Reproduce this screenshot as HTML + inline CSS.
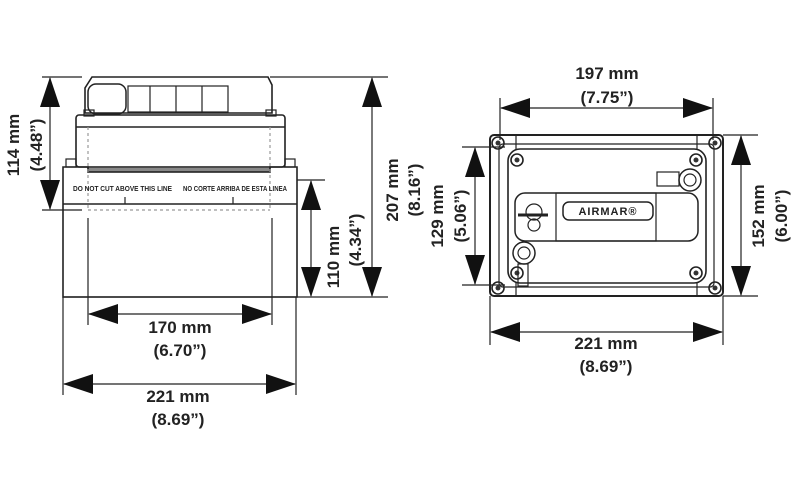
<!DOCTYPE html>
<html><head><meta charset="utf-8"><style>
html,body{margin:0;padding:0;background:#fff;}
svg{display:block;}
text{font-family:"Liberation Sans",Arial,sans-serif;font-weight:bold;fill:#222;}
</style></head><body>
<svg width="800" height="500" viewBox="0 0 800 500" xmlns="http://www.w3.org/2000/svg">
<defs>
<marker id="a" markerWidth="30" markerHeight="20" refX="29" refY="10" orient="auto-start-reverse" markerUnits="userSpaceOnUse">
<path d="M0,0 L30,10 L0,20 Z" fill="#111"/>
</marker>
</defs>
<g stroke="#222" stroke-width="1.2" fill="none">
<!-- LEFT VIEW -->
<path d="M92,77 L268,77 L272,85 L272,113 L85,113 L85,88 Z" stroke-width="1.6"/>
<rect x="88" y="84" width="38" height="30" rx="8" stroke-width="1.5"/>
<rect x="128" y="86" width="100" height="26"/>
<line x1="150" y1="86" x2="150" y2="112"/><line x1="176" y1="86" x2="176" y2="112"/><line x1="202" y1="86" x2="202" y2="112"/>
<rect x="84" y="110" width="10" height="6"/><rect x="266" y="110" width="10" height="6"/>
<rect x="76" y="115" width="209" height="52" rx="3" stroke-width="1.6"/>
<line x1="76" y1="127" x2="285" y2="127" stroke-width="1.6"/>
<rect x="88" y="167" width="182" height="5" fill="#888"/>
<rect x="66" y="159" width="10" height="8"/><rect x="285" y="159" width="10" height="8"/>
<path d="M63,167 L88,167 L88,172 L270,172 L270,167 L297,167 L297,297 L63,297 Z" stroke-width="1.6"/>
<line x1="63" y1="204" x2="297" y2="204" stroke-width="1.6"/>
<line x1="125" y1="197" x2="125" y2="204"/><line x1="233" y1="197" x2="233" y2="204"/>
<g stroke-dasharray="3,3" stroke="#999">
<line x1="88" y1="127" x2="88" y2="210"/><line x1="270" y1="127" x2="270" y2="210"/>
<line x1="88" y1="210" x2="270" y2="210"/>
</g>
<line x1="88" y1="218" x2="88" y2="325"/><line x1="272" y1="218" x2="272" y2="325"/>
<line x1="42" y1="77" x2="82" y2="77"/><line x1="42" y1="210" x2="82" y2="210"/>
<line x1="270" y1="77" x2="388" y2="77"/>
<line x1="297" y1="180" x2="325" y2="180"/>
<line x1="63" y1="297" x2="388" y2="297"/>
<line x1="63" y1="297" x2="63" y2="395"/><line x1="296" y1="297" x2="296" y2="395"/>
<line x1="50" y1="78" x2="50" y2="209" marker-start="url(#a)" marker-end="url(#a)"/>
<line x1="372" y1="78" x2="372" y2="296" marker-start="url(#a)" marker-end="url(#a)"/>
<line x1="311" y1="181" x2="311" y2="296" marker-start="url(#a)" marker-end="url(#a)"/>
<line x1="89" y1="314" x2="271" y2="314" marker-start="url(#a)" marker-end="url(#a)"/>
<line x1="64" y1="384" x2="295" y2="384" marker-start="url(#a)" marker-end="url(#a)"/>

<!-- RIGHT VIEW -->
<rect x="490" y="135" width="233" height="161" rx="4" stroke-width="2"/>
<rect x="499" y="144" width="215" height="143" rx="4"/>
<rect x="508" y="149" width="198" height="134" rx="12" stroke-width="1.6"/>
<line x1="516" y1="135" x2="516" y2="149"/><line x1="697" y1="135" x2="697" y2="149"/>
<line x1="516" y1="283" x2="516" y2="296"/><line x1="697" y1="283" x2="697" y2="296"/>
<g stroke-width="1.6">
<circle cx="498" cy="143" r="6"/><circle cx="715" cy="143" r="6"/>
<circle cx="498" cy="288" r="6"/><circle cx="715" cy="288" r="6"/>
<circle cx="517" cy="160" r="6"/><circle cx="696" cy="160" r="6"/>
<circle cx="517" cy="273" r="6"/><circle cx="696" cy="273" r="6"/>
</g>
<g fill="#333" stroke="none">
<circle cx="498" cy="143" r="2.5"/><circle cx="715" cy="143" r="2.5"/>
<circle cx="498" cy="288" r="2.5"/><circle cx="715" cy="288" r="2.5"/>
<circle cx="517" cy="160" r="2.5"/><circle cx="696" cy="160" r="2.5"/>
<circle cx="517" cy="273" r="2.5"/><circle cx="696" cy="273" r="2.5"/>
</g>
<rect x="515" y="193" width="183" height="48" rx="10" stroke-width="1.5"/>
<rect x="556" y="193" width="100" height="48"/>
<rect x="563" y="202" width="90" height="18" rx="6" stroke-width="1.5"/>
<line x1="518" y1="215" x2="548" y2="215" stroke-width="3"/>
<circle cx="534" cy="212" r="8"/><circle cx="534" cy="225" r="6"/>
<circle cx="690" cy="180" r="11" stroke-width="1.5"/><circle cx="690" cy="180" r="6"/>
<rect x="657" y="172" width="22" height="14"/>
<circle cx="524" cy="253" r="11" stroke-width="1.5"/><circle cx="524" cy="253" r="6"/>
<rect x="518" y="264" width="10" height="22"/>
<line x1="500" y1="98" x2="500" y2="140"/><line x1="713" y1="98" x2="713" y2="140"/>
<line x1="723" y1="135" x2="758" y2="135"/><line x1="723" y1="296" x2="758" y2="296"/>
<line x1="462" y1="147" x2="505" y2="147"/><line x1="462" y1="285" x2="505" y2="285"/>
<line x1="490" y1="296" x2="490" y2="345"/><line x1="723" y1="296" x2="723" y2="345"/>
<line x1="501" y1="108" x2="712" y2="108" marker-start="url(#a)" marker-end="url(#a)"/>
<line x1="741" y1="136" x2="741" y2="295" marker-start="url(#a)" marker-end="url(#a)"/>
<line x1="475" y1="148" x2="475" y2="284" marker-start="url(#a)" marker-end="url(#a)"/>
<line x1="491" y1="332" x2="722" y2="332" marker-start="url(#a)" marker-end="url(#a)"/>
</g>
<text x="73" y="191" font-size="7" textLength="99" lengthAdjust="spacingAndGlyphs">DO NOT CUT ABOVE THIS LINE</text>
<text x="183" y="191" font-size="7" textLength="104" lengthAdjust="spacingAndGlyphs">NO CORTE ARRIBA DE ESTA LINEA</text>
<text x="608" y="215" font-size="11" text-anchor="middle" letter-spacing="1">AIRMAR®</text>

<g font-size="17" text-anchor="middle">
<text transform="translate(19,145) rotate(-90)">114 mm</text>
<text transform="translate(42,145) rotate(-90)">(4.48”)</text>
<text transform="translate(398,190) rotate(-90)">207 mm</text>
<text transform="translate(420,190) rotate(-90)">(8.16”)</text>
<text transform="translate(339,257) rotate(-90)">110 mm</text>
<text transform="translate(361,240) rotate(-90)">(4.34”)</text>
<text x="180" y="333">170 mm</text>
<text x="180" y="356">(6.70”)</text>
<text x="178" y="402">221 mm</text>
<text x="178" y="425">(8.69”)</text>
<text x="607" y="79">197 mm</text>
<text x="607" y="103">(7.75”)</text>
<text transform="translate(443,216) rotate(-90)">129 mm</text>
<text transform="translate(466,216) rotate(-90)">(5.06”)</text>
<text transform="translate(764,216) rotate(-90)">152 mm</text>
<text transform="translate(787,216) rotate(-90)">(6.00”)</text>
<text x="606" y="349">221 mm</text>
<text x="606" y="372">(8.69”)</text>
</g>
</svg>
</body></html>
